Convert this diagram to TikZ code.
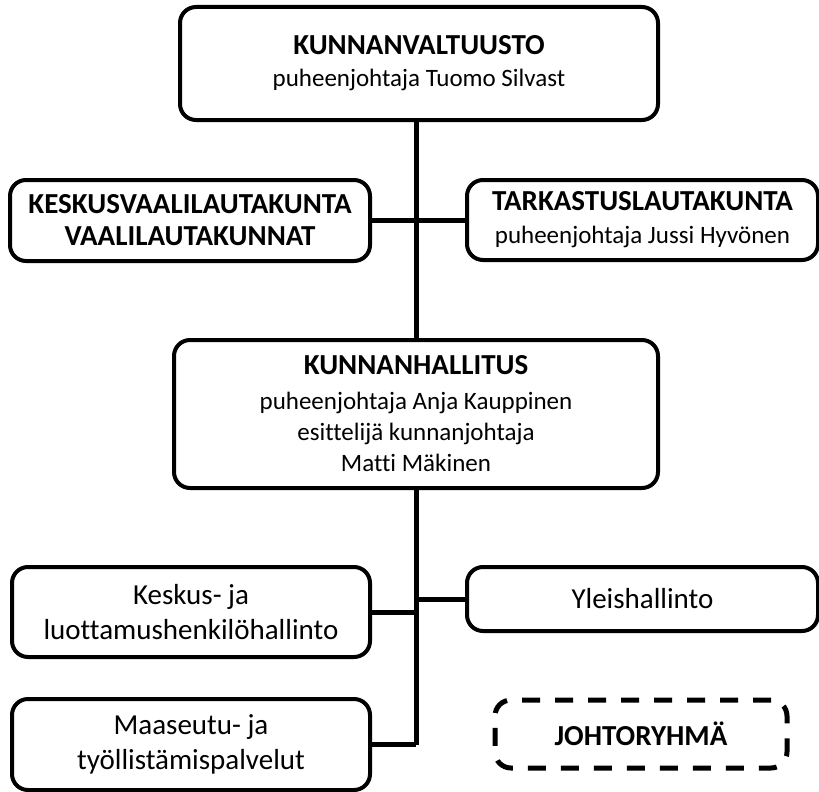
\documentclass[tikz,border=0pt]{standalone}
\usepackage{fontspec}
\setmainfont{Carlito}[Ligatures=NoCommon]
\newcommand{\hd}{\bfseries\fontsize{29}{35}\selectfont}
\begin{document}
\begin{tikzpicture}[x=1pt,y=-1pt,
  box/.style={draw,line width=4pt,rounded corners=16pt,align=center,inner sep=0pt,
    font=\fontsize{25}{31}\selectfont},
  unit/.style={box,font=\fontsize{29}{35}\selectfont},
  link/.style={line width=5pt}]
  \useasboundingbox (0,0) rectangle (819,792);
  \node[box,minimum width=478pt,minimum height=113pt] (val) at (419,63.5)
    {{\hd KUNNANVALTUUSTO}\\[1pt] puheenjohtaja Tuomo Silvast};
  \node[box,minimum width=360pt,minimum height=81pt] (kes) at (190,220.5)
    {{\hd KESKUSVAALILAUTAKUNTA}\\[1pt] {\hd VAALILAUTAKUNNAT}};
  \node[box,minimum width=351pt,minimum height=80pt] (tar) at (642.5,220)
    {{\hd TARKASTUSLAUTAKUNTA}\\[2pt] puheenjohtaja Jussi Hyvönen};
  \node[box,minimum width=484pt,minimum height=148pt] (hal) at (416,414)
    {{\hd KUNNANHALLITUS}\\[4pt] puheenjohtaja Anja Kauppinen\\ esittelijä kunnanjohtaja\\ Matti Mäkinen};
  \node[unit,minimum width=358pt,minimum height=90pt] (kl) at (191,612)
    {Keskus- ja\\ luottamushenkilöhallinto};
  \node[unit,minimum width=351pt,minimum height=64pt] (yl) at (642.5,599)
    {Yleishallinto};
  \node[unit,minimum width=358pt,minimum height=91pt] (ma) at (191,744.5)
    {Maaseutu- ja\\ työllistämispalvelut};
  \node[box,line width=5pt,dash pattern=on 18pt off 15pt,minimum width=292pt,minimum height=68pt] (jo) at (641,734)
    {\hd JOHTORYHMÄ};

  \draw [link] (hal.north) -- (hal.north |- val.south);
  \draw [link] (kes.east) -- (kes.east -| hal.north);
  \draw [link] (tar.west) -- (tar.west -| hal.north);
  \draw [link] (hal.south) -- (hal.south |- ma.east);
  \draw [link] (kl.east) -- (kl.east -| hal.south);
  \draw [link] (yl.west) -- (yl.west -| hal.south);
  \draw [link] (ma.east) -- (ma.east -| hal.south);
\end{tikzpicture}
\end{document}
